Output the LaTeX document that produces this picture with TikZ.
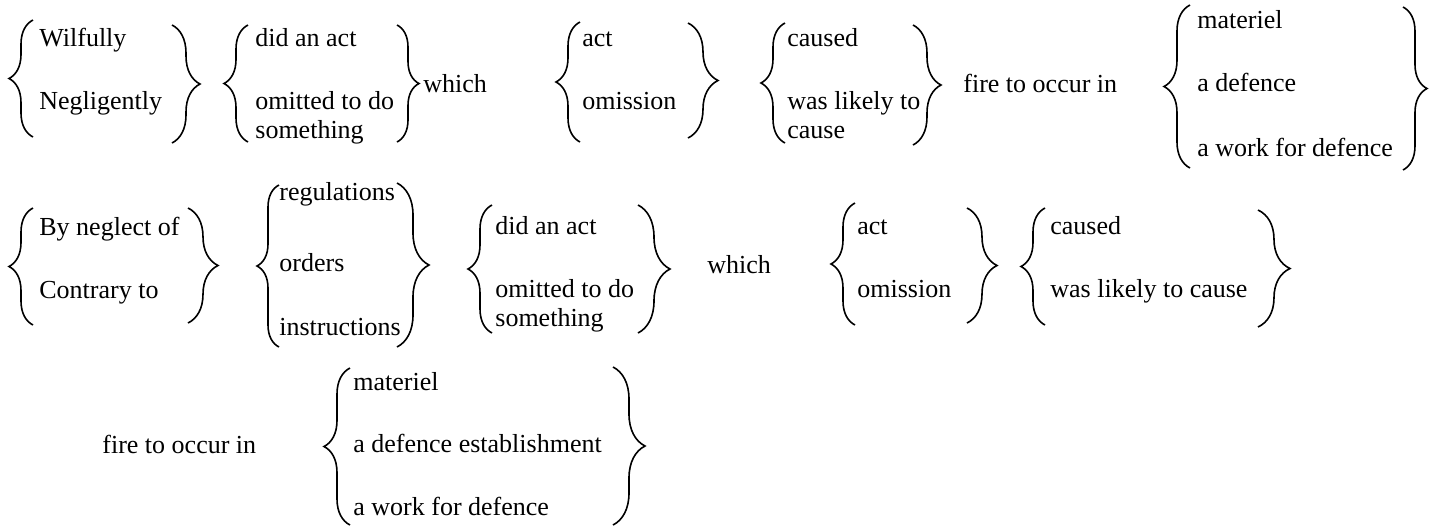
\documentclass[tikz,border=0pt]{standalone}
\usepackage{fontspec}
\setmainfont{Liberation Serif}
\usetikzlibrary{decorations.pathreplacing}
\tikzset{
  optext/.style={
    anchor=base west, inner sep=0pt,
    font=\fontsize{13pt}{15pt}\selectfont
  },
  curly/.style={
    decorate, decoration={brace, amplitude=#1}, line width=0.8pt
  },
  curly/.default=12pt,
}

\begin{document}
\begin{tikzpicture}[x=0.5pt, y=-0.5pt]
  \useasboundingbox (0,0) rectangle (1432,527);

  % Row 1
  \draw[curly=12pt] (33,137) -- (33,20);
  \node[optext] (wilful) at (39,46) {Wilfully};
  \node[optext] (neglig) at (39,109) {Negligently};
  \draw[curly=14pt] (172,25) -- (172,143);

  \draw[curly=12pt] (248,142) -- (248,25);
  \node[optext] (didact) at (255,46) {did an act};
  \node[optext] (omitted) at (255,109) {omitted to do};
  \node[optext] (someth) at (255,138) {something};
  \draw[curly=11pt] (397,25) -- (397,142);

  \node[optext] (which) at (423,92) {which};

  \draw[curly=12pt] (580,142) -- (580,22);
  \node[optext] (act) at (582,46) {act};
  \node[optext] (omiss) at (582,109) {omission};
  \draw[curly=15pt] (688,23) -- (688,138);

  \draw[curly=12pt] (785,143) -- (785,23);
  \node[optext] (caused) at (787,46) {caused};
  \node[optext] (likely) at (787,109) {was likely to};
  \node[optext] (cause) at (787,138) {cause};
  \draw[curly=14pt] (913,25) -- (913,145);

  \node[optext] (fire) at (963,92) {fire to occur in};

  \draw[curly=13pt] (1190,168) -- (1190,5);
  \node[optext] (materiel) at (1197,28) {materiel};
  \node[optext] (defence) at (1197,91) {a defence};
  \node[optext] (work) at (1197,156) {a work for defence};
  \draw[curly=12pt] (1403,7) -- (1403,170);

  % Row 2
  \draw[curly=12pt] (33,325) -- (33,208);
  \node[optext] (byneg) at (39,235) {By neglect of};
  \node[optext] (contrary) at (39,298) {Contrary to};
  \draw[curly=15pt] (188,208) -- (188,323);

  \draw[curly=11pt] (279,347) -- (279,185);
  \node[optext] (regs) at (279,200) {regulations};
  \node[optext] (orders) at (279,271) {orders};
  \node[optext] (instr) at (279,335) {instructions};
  \draw[curly=16pt] (397,183) -- (397,347);

  \draw[curly=12pt] (492,333) -- (492,205);
  \node[optext] (didact2) at (495,234) {did an act};
  \node[optext] (omitted2) at (495,297) {omitted to do};
  \node[optext] (someth2) at (495,326) {something};
  \draw[curly=16pt] (638,205) -- (638,333);

  \node[optext] (which2) at (707,273) {which};

  \draw[curly=12pt] (855,325) -- (855,203);
  \node[optext] (act2) at (857,234) {act};
  \node[optext] (omiss2) at (857,297) {omission};
  \draw[curly=15pt] (967,208) -- (967,323);

  \draw[curly=12pt] (1045,325) -- (1045,208);
  \node[optext] (caused2) at (1050,234) {caused};
  \node[optext] (likely2) at (1050,297) {was likely to cause};
  \draw[curly=16pt] (1258,210) -- (1258,327);

  % Row 3
  \node[optext] (fire2) at (102,453) {fire to occur in};

  \draw[curly=13pt] (350,525) -- (350,368);
  \node[optext] (materiel2) at (353,390) {materiel};
  \node[optext] (estab) at (353,452) {a defence establishment};
  \node[optext] (work2) at (353,515) {a work for defence};
  \draw[curly=16pt] (613,367) -- (613,525);
\end{tikzpicture}
\end{document}
